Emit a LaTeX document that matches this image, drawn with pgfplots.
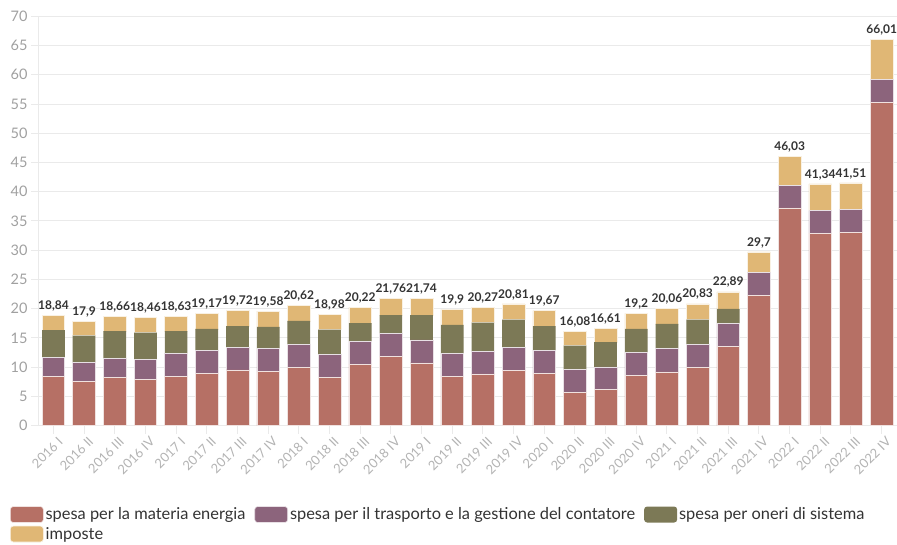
\documentclass[border=0pt]{standalone}
\usepackage{pgfplots}
\pgfplotsset{compat=1.18}
\usepackage{pgfplotstable}
\usepackage{fontspec}
\setmainfont{Lato}
\definecolor{cEn}{RGB}{182,112,101}
\definecolor{cTr}{RGB}{140,100,124}
\definecolor{cOn}{RGB}{124,121,86}
\definecolor{cIm}{RGB}{224,183,117}
\definecolor{gridc}{RGB}{234,234,234}
\definecolor{tickc}{RGB}{160,160,160}
\definecolor{txt}{RGB}{51,51,51}
\pgfplotstableread{
x e t o i tot
0 8.39 3.25 4.69 2.51 18.84
1 7.53 3.26 4.62 2.49 17.9
2 8.29 3.25 4.62 2.50 18.66
3 7.95 3.35 4.62 2.54 18.46
4 8.39 4.01 3.76 2.47 18.63
5 8.97 3.94 3.65 2.61 19.17
6 9.54 3.88 3.60 2.70 19.72
7 9.31 3.87 3.72 2.68 19.58
8 10.00 3.94 3.99 2.69 20.62
9 8.29 3.87 4.28 2.54 18.98
10 10.51 3.87 3.15 2.69 20.22
11 11.82 3.93 3.15 2.86 21.76
12 10.74 3.93 4.23 2.84 21.74
13 8.46 3.94 4.84 2.66 19.9
14 8.85 3.89 4.90 2.63 20.27
15 9.42 3.94 4.79 2.66 20.81
16 8.97 3.87 4.18 2.65 19.67
17 5.65 4.01 4.04 2.38 16.08
18 6.23 3.82 4.23 2.33 16.61
19 8.56 3.94 4.06 2.64 19.2
20 9.19 3.99 4.23 2.65 20.06
21 10.00 3.94 4.21 2.68 20.83
22 13.53 4.00 2.45 2.91 22.89
23 22.26 3.94 0 3.50 29.7
24 37.23 3.81 0 4.99 46.03
25 32.94 3.82 0 4.58 41.34
26 33.11 3.82 0 4.58 41.51
27 55.29 3.87 0 6.85 66.01
}\data
\pgfplotsset{
  swatch/.style={legend image code/.code={\fill[##1,rounded corners=3pt] (0pt,-8pt) rectangle (33pt,8pt);}},
  geom/.style={at={(39pt,118.3pt)}, anchor=south west,
    scale only axis, width=858pt, height=409.4pt,
    xmin=-0.47, xmax=27.5, ymin=0, ymax=70}
}
\begin{document}
\begin{tikzpicture}
\begin{axis}[
  geom,
  ybar stacked, bar width=22.7pt,
  ytick={0,5,...,70},
  xtick={0,...,27},
  xticklabels={2016 I,2016 II,2016 III,2016 IV,2017 I,2017 II,2017 III,2017 IV,2018 I,2018 II,2018 III,2018 IV,2019 I,2019 II,2019 III,2019 IV,2020 I,2020 II,2020 III,2020 IV,2021 I,2021 II,2021 III,2021 IV,2022 I,2022 II,2022 III,2022 IV},
  axis line style={draw=none},
  axis x line*=bottom, axis y line*=left,
  ymajorgrids, grid style={gridc, line width=1pt},
  major tick style={gridc, line width=1pt},
  tick align=outside, major tick length=8pt,
  /pgf/number format/assume math mode=true,
  yticklabel style={font=\fontsize{14.5}{16}\selectfont, text=tickc},
  xticklabel style={font=\fontsize{13}{15}\selectfont, text=tickc!80, rotate=45, anchor=north east, inner sep=1pt, yshift=-3pt, xshift=2pt},
  legend columns=3,
  legend style={at={(axis description cs:-0.034,-0.195)}, anchor=north west, draw=none, fill=none,
    font=\fontsize{16.4}{18}\selectfont, text=txt, inner sep=0pt, row sep=2pt,
    /tikz/every even column/.append style={column sep=7pt}},
  legend cell align=left,
  clip=false,
]
\addplot[fill=cEn, draw=white!80!cEn, line width=0.6pt, swatch] table[x=x,y=e] {\data};
\addlegendentry{spesa per la materia energia}
\addplot[fill=cTr, draw=white!80!cTr, line width=0.6pt, swatch] table[x=x,y=t] {\data};
\addlegendentry{spesa per il trasporto e la gestione del contatore}
\addplot[fill=cOn, draw=none, swatch] table[x=x,y=o] {\data};
\addlegendentry{spesa per oneri di sistema}
\addplot[fill=cIm, draw=white!80!cIm, line width=0.6pt, swatch] table[x=x,y=i] {\data};
\addlegendentry{imposte}
\draw[gridc, line width=1pt] (axis cs:-0.47,0) -- (axis cs:27.5,0);
\draw[gridc, line width=1pt] (axis cs:-0.47,0) -- (axis cs:-0.47,70);
\end{axis}
\begin{axis}[geom, hide axis, clip=false]
\addplot[draw=none, mark=none,
  point meta=explicit,
  nodes near coords,
  nodes near coords style={font=\bfseries\fontsize{12}{14}\selectfont, text=txt, anchor=south, inner sep=4pt,
    /pgf/number format/.cd, use comma, precision=2, 1000 sep={}, assume math mode=true},
  ] table[x=x,y=tot,meta=tot] {\data};
\end{axis}
\pgfresetboundingbox
\path[use as bounding box] (0,0) rectangle (897pt,544pt);
\end{tikzpicture}
\end{document}
